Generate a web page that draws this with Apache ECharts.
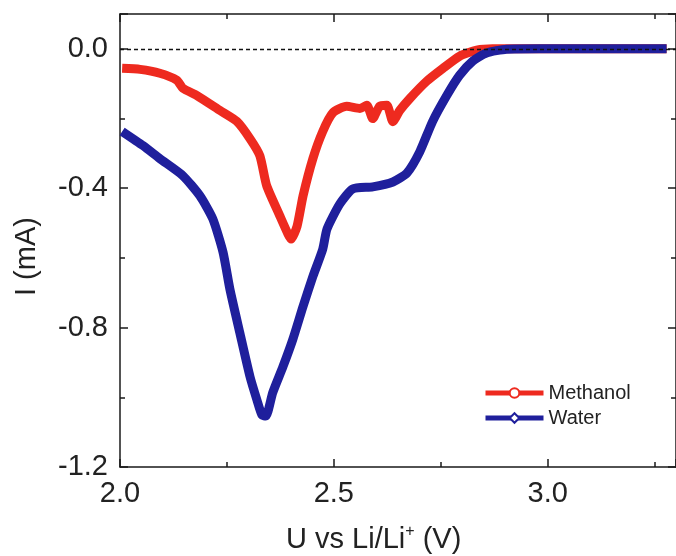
<!DOCTYPE html>
<html>
<head>
<meta charset="utf-8">
<script src="https://cdn.jsdelivr.net/npm/echarts@6/dist/echarts.min.js"></script>
<style>
html,body{margin:0;padding:0;background:#fff;}
#c{width:676px;height:556px;}
</style>
</head>
<body>
<div id="c"></div>
<script>
// Methanol: voltage (V) and current (mA)
const methanolU = [2.005,2.047,2.093,2.133,2.147,2.180,2.234,2.273,2.304,2.327,2.343,2.374,2.393,2.400,2.414,2.428,2.451,2.474,2.498,2.530,2.561,2.577,2.591,2.607,2.624,2.638,2.654,2.678,2.717,2.755,2.794,2.834,2.871,2.958,3.121,3.278];
const methanolI = [-0.056,-0.059,-0.070,-0.090,-0.113,-0.134,-0.177,-0.208,-0.258,-0.307,-0.393,-0.480,-0.532,-0.546,-0.509,-0.422,-0.315,-0.237,-0.183,-0.165,-0.171,-0.162,-0.200,-0.165,-0.162,-0.209,-0.177,-0.142,-0.093,-0.056,-0.021,-0.004,0.0,0.0,0.0,0.0];
// Water
const waterU = [2.005,2.054,2.093,2.147,2.187,2.217,2.241,2.257,2.280,2.304,2.320,2.332,2.341,2.357,2.381,2.404,2.428,2.451,2.474,2.484,2.514,2.544,2.591,2.638,2.671,2.701,2.731,2.764,2.794,2.825,2.857,2.904,2.981,3.121,3.278];
const waterI = [-0.237,-0.278,-0.315,-0.364,-0.422,-0.488,-0.584,-0.690,-0.814,-0.941,-1.007,-1.051,-1.054,-0.987,-0.912,-0.834,-0.739,-0.653,-0.575,-0.517,-0.445,-0.402,-0.396,-0.382,-0.356,-0.295,-0.208,-0.134,-0.076,-0.035,-0.012,-0.001,0.0,0.0,0.0];
// Axis ticks
const xTicks = [2.0, 2.5, 3.0];
const yTicks = [0.0, -0.4, -0.8, -1.2];

const FONT = "'Liberation Sans', Arial, sans-serif";
const RED = '#ee2a1f', BLUE = '#1f1f9c';
const zip = (a, b) => a.map((v, i) => [v, b[i]]);

const chart = echarts.init(document.getElementById('c'), null, {renderer: 'canvas'});

const axisLine = {show: true, onZero: false, lineStyle: {color: '#1a1a1a', width: 1.5}};
const xCommon = {
  type: 'value', min: 2.0, max: 3.3, interval: 0.5,
  axisLine: axisLine,
  axisTick: {show: true, inside: true, length: 8, lineStyle: {color: '#1a1a1a', width: 1.5}},
  minorTick: {show: true, splitNumber: 2, length: 5, lineStyle: {color: '#1a1a1a', width: 1.5}},
  splitLine: {show: false}
};
const yCommon = {
  type: 'value', min: -1.2, max: 0.1, interval: 0.4,
  axisLine: axisLine,
  axisTick: {show: true, inside: true, length: 8, lineStyle: {color: '#1a1a1a', width: 1.5}},
  minorTick: {show: true, splitNumber: 2, length: 5, lineStyle: {color: '#1a1a1a', width: 1.5}},
  splitLine: {show: false}
};

chart.setOption({
  backgroundColor: '#ffffff',
  animation: false,
  grid: {left: 120, top: 14, width: 556, height: 453},
  xAxis: [
    Object.assign({}, xCommon, {
      position: 'bottom',
      axisLabel: {
        show: true, fontSize: 29, color: '#222', fontFamily: FONT, margin: 12,
        showMaxLabel: false,
        formatter: v => xTicks.some(t => Math.abs(t - v) < 1e-9) ? v.toFixed(1) : ''
      }
    }),
    Object.assign({}, xCommon, {position: 'top', axisLabel: {show: false}})
  ],
  yAxis: [
    Object.assign({}, yCommon, {
      position: 'left',
      axisLabel: {
        show: true, fontSize: 29, color: '#222', fontFamily: FONT, margin: 12,
        showMaxLabel: false,
        formatter: v => yTicks.some(t => Math.abs(t - v) < 1e-9) ? v.toFixed(1) : ''
      }
    }),
    Object.assign({}, yCommon, {position: 'right', axisLabel: {show: false}})
  ],
  legend: {
    left: 478, top: 378, orient: 'vertical',
    itemWidth: 58, itemHeight: 12, itemGap: 5,
    textStyle: {fontSize: 20, color: '#222', fontFamily: FONT},
    lineStyle: {width: 5},
    data: ['Methanol', 'Water']
  },
  graphic: [
    {
      type: 'text', left: 286, top: 524,
      style: {
        text: 'U vs Li/Li{sup|+} (V)',
        fontSize: 29, fontFamily: FONT, fill: '#222',
        rich: {sup: {fontSize: 16, fontFamily: FONT, fill: '#222', padding: [0, 0, 16, 0]}}
      }
    },
    {
      type: 'text', x: 12, y: 296, rotation: Math.PI / 2,
      style: {text: 'I (mA)', fontSize: 29, fontFamily: FONT, fill: '#222'}
    }
  ],
  series: [
    {
      name: 'Zero', type: 'line', data: [], z: 1, silent: true,
      markLine: {
        silent: true, symbol: 'none', label: {show: false}, animation: false,
        lineStyle: {color: '#111', type: [4, 3], width: 1.4},
        emphasis: {disabled: true},
        data: [{yAxis: 0}]
      }
    },
    {
      name: 'Methanol', type: 'line', data: zip(methanolU, methanolI),
      symbol: 'emptyCircle', symbolSize: 12, showSymbol: false, smooth: 0.2,
      color: RED,
      itemStyle: {color: RED},
      lineStyle: {color: RED, width: 9},
      z: 3
    },
    {
      name: 'Water', type: 'line', data: zip(waterU, waterI),
      symbol: 'emptyDiamond', symbolSize: 13, showSymbol: false, smooth: 0.2,
      color: BLUE,
      itemStyle: {color: BLUE},
      lineStyle: {color: BLUE, width: 9},
      z: 4
    }
  ]
});
</script>
</body>
</html>
